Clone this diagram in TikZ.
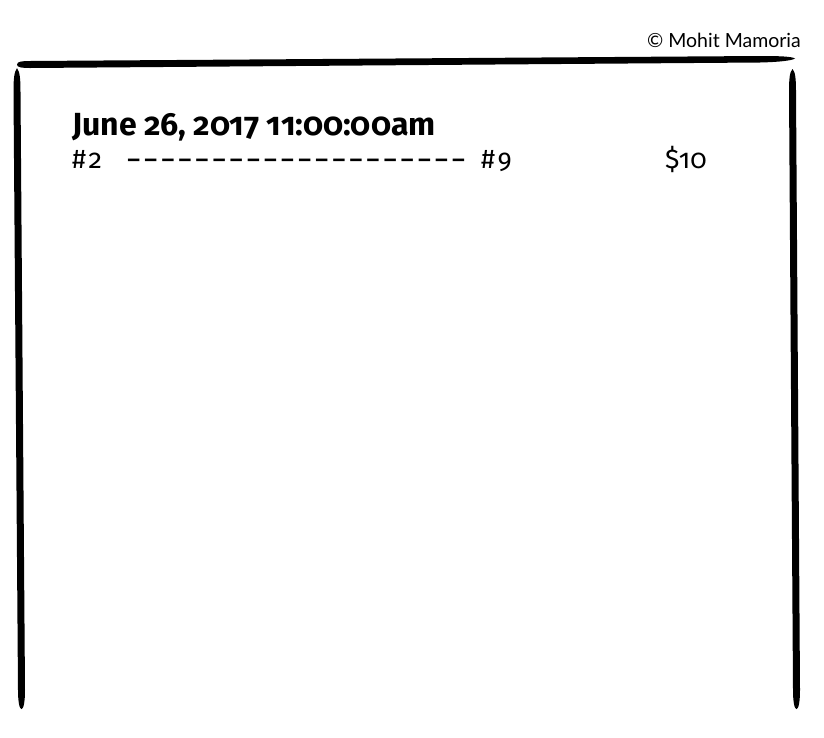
\documentclass[tikz,border=0pt]{standalone}
\usepackage{fontspec}
\setmainfont{Fira Sans}[Numbers=OldStyle]
\newfontfamily\creditfont{Lato}
\usepackage{tikz}

\begin{document}
\begin{tikzpicture}[x=1pt, y=-1pt,
  brush/.style={fill=black},
  txt/.style={inner sep=0pt, anchor=base west},
  heading/.style={txt, font=\fontsize{32}{36}\selectfont\bfseries},
  entry/.style={txt, font=\fontsize{27}{32}\selectfont},
  credit/.style={inner sep=0pt, anchor=base east, font=\creditfont\fontsize{19.5}{22}\selectfont}]
 \useasboundingbox[fill=white] (0,0) rectangle (824,737);
 % brush strokes of the frame
 \fill[brush] (17,64.5) .. controls (17,61.5) and (22,61) .. (30,61) -- (760,56)
   .. controls (780,56) and (792,56.5) .. (795,58.5)
   .. controls (792,60.5) and (780,62) .. (760,62.5) -- (30,68)
   .. controls (22,68) and (17,67.5) .. (17,64.5) -- cycle;
 \fill[brush] (17,68) .. controls (14,72) and (13.5,80) .. (13.5,92) -- (18,690)
   .. controls (18,702) and (19.5,709) .. (21.5,709)
   .. controls (23.5,709) and (25,702) .. (25,690) -- (20.5,92)
   .. controls (20.5,80) and (20,72) .. (17,68) -- cycle;
 \fill[brush] (792.5,69) .. controls (789.5,72) and (789,80) .. (789,92) -- (793,690)
   .. controls (793,702) and (794.5,709) .. (796.5,709)
   .. controls (798.5,709) and (800,702) .. (800,690) -- (796,92)
   .. controls (796,80) and (795.5,72) .. (792.5,69) -- cycle;
 % texts
 \node[credit] (credit) at (801,47) {\textcopyright{} Mohit Mamoria};
 \node[heading] (date) at (72,135) {June 26, 2017 11:00:00am};
 \node[entry] (from) at (72,168) {\#\kern2.5pt 2};
 \node[entry] (dashes) at (125,168) {\foreach \i in {1,...,20}{\makebox[17.1pt]{\raisebox{-2pt}{\scalebox{1.5}[1.2]{-}}}}};
 \node[entry] (to) at (481,168) {\#\kern2.5pt 9};
 \node[entry] (fare) at (665,168) {\$10};
\end{tikzpicture}
\end{document}
